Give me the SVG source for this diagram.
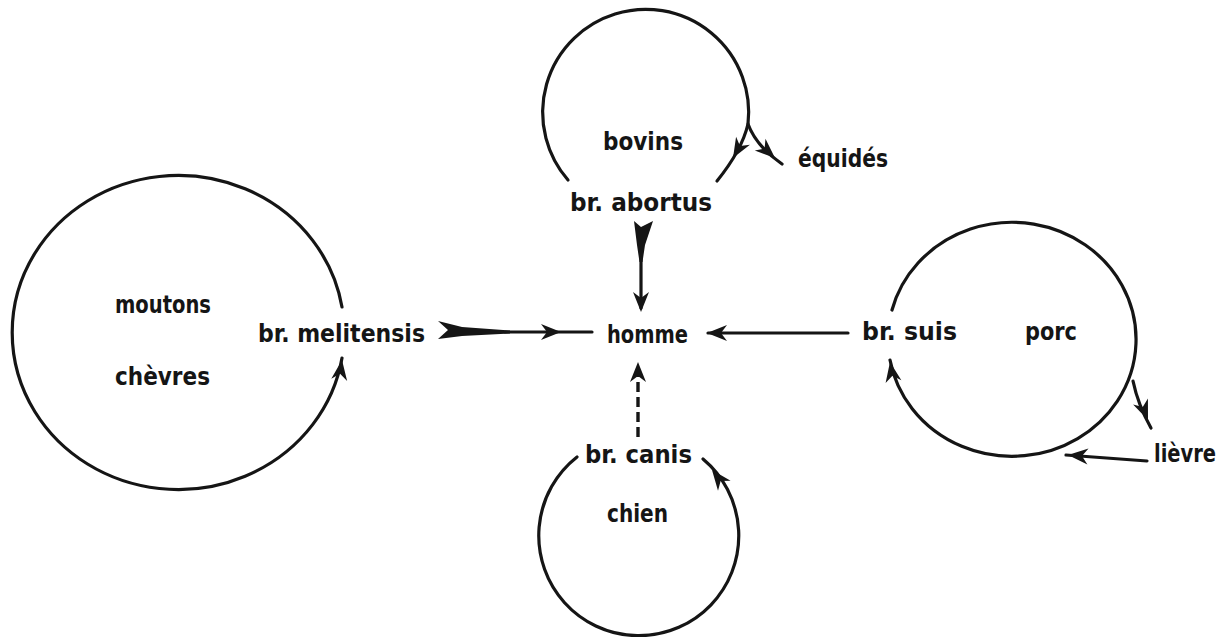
<svg xmlns="http://www.w3.org/2000/svg" xmlns:xlink="http://www.w3.org/1999/xlink" width="1226" height="637" viewBox="0 0 1226 637">
<style>
  .t { font-family: "DejaVu Sans Condensed", "DejaVu Sans", sans-serif; font-stretch: condensed; font-weight: bold; font-size: 25px; fill: #151515; }
  .c { fill: none; stroke: #151515; stroke-width: 3.2; stroke-linecap: round; }
  .d { fill: none; stroke: #151515; stroke-width: 3.4; stroke-dasharray: 10 5; }
  .f { fill: #151515; stroke: none; }
</style>
<defs>
  <path id="ah" d="M0,0 L-20,-8 L-14,0 L-20,8 Z" fill="#151515"/>
</defs>
<rect width="1226" height="637" fill="#ffffff"/>

<g id="connectors">
  <!-- bovins cycle -->
  <path class="c" d="M568,180 A103,103 0 1 1 748,124 Q742,150 717,181"/>
  <use xlink:href="#ah" transform="translate(733,158) rotate(120)"/>
  <!-- equides branch -->
  <path class="c" d="M748,124 Q756,146 782,164"/>
  <use xlink:href="#ah" transform="translate(775,158) rotate(42)"/>
  <!-- moutons/chevres cycle -->
  <path class="c" d="M342,307 A166,157 0 1 0 342,358"/>
  <use xlink:href="#ah" transform="translate(342,360) rotate(-82)"/>
  <!-- porc cycle -->
  <path class="c" d="M892,310 A124,117 0 1 1 890,360"/>
  <use xlink:href="#ah" transform="translate(890,362) rotate(-100)"/>
  <!-- lievre branch -->
  <path class="c" d="M1133,381 Q1138,405 1151,428"/>
  <use xlink:href="#ah" transform="translate(1148,420) rotate(68)"/>
  <!-- lievre to porc cycle -->
  <path class="c" d="M1147,461 L1066,455"/>
  <use xlink:href="#ah" transform="translate(1068,455) rotate(184)"/>
  <!-- chien cycle -->
  <path class="c" d="M577,457 A100,100 0 1 0 703,459"/>
  <use xlink:href="#ah" transform="translate(712,470) rotate(-128)"/>
  <!-- melitensis -> homme -->
  <path class="f" d="M438,321 L462,327 L510,330.5 L510,333.5 L462,336 L438,339 L448,330 Z"/>
  <path class="c" d="M505,332 L592,332"/>
  <use xlink:href="#ah" transform="translate(561,332)"/>
  <!-- abortus -> homme -->
  <path class="f" d="M634,221 L641,227 L653,221 L645,245 L642.5,262 L639.5,262 L637,245 Z"/>
  <path class="c" d="M641,258 L641,308"/>
  <use xlink:href="#ah" transform="translate(641,312) rotate(90)"/>
  <!-- suis -> homme -->
  <path class="c" d="M848,333 L708,333"/>
  <use xlink:href="#ah" transform="translate(707,333) rotate(180)"/>
  <!-- canis -> homme (dashed) -->
  <path class="d" d="M638,437 L638,362"/>
  <use xlink:href="#ah" transform="translate(638,362) rotate(-90)"/>
</g>

<g id="bovins"><text class="t" x="603" y="150" textLength="80" lengthAdjust="spacingAndGlyphs">bovins</text></g>
<g id="abortus"><text class="t" x="570" y="211" textLength="142" lengthAdjust="spacingAndGlyphs">br. abortus</text></g>
<g id="equides"><text class="t" x="798" y="167" textLength="90" lengthAdjust="spacingAndGlyphs">équidés</text></g>
<g id="moutons"><text class="t" x="115" y="313" textLength="96" lengthAdjust="spacingAndGlyphs">moutons</text></g>
<g id="melitensis"><text class="t" x="258" y="342" textLength="167" lengthAdjust="spacingAndGlyphs">br. melitensis</text></g>
<g id="chevres"><text class="t" x="115" y="385" textLength="95" lengthAdjust="spacingAndGlyphs">chèvres</text></g>
<g id="homme"><text class="t" x="607" y="343" textLength="81" lengthAdjust="spacingAndGlyphs">homme</text></g>
<g id="suis"><text class="t" x="862" y="340" textLength="95" lengthAdjust="spacingAndGlyphs">br. suis</text></g>
<g id="porc"><text class="t" x="1025" y="340" textLength="52" lengthAdjust="spacingAndGlyphs">porc</text></g>
<g id="lievre"><text class="t" x="1154" y="462" textLength="62" lengthAdjust="spacingAndGlyphs">lièvre</text></g>
<g id="canis"><text class="t" x="585" y="463" textLength="107" lengthAdjust="spacingAndGlyphs">br. canis</text></g>
<g id="chien"><text class="t" x="607" y="522" textLength="61" lengthAdjust="spacingAndGlyphs">chien</text></g>
</svg>
